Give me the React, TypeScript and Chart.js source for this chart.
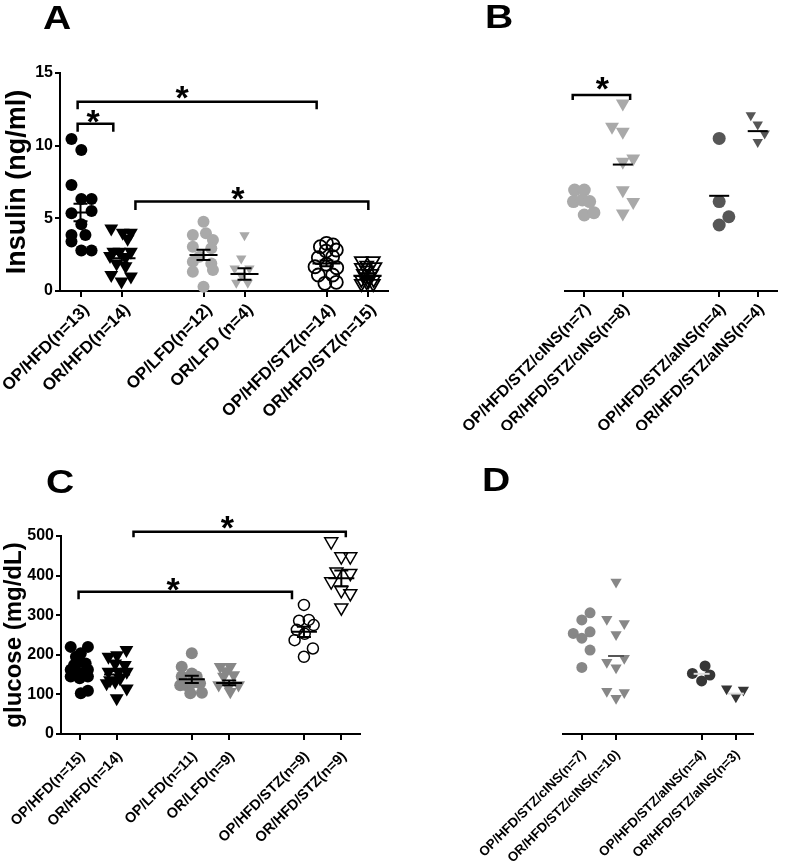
import React, { useEffect, useRef } from "react";
import { Chart, registerables } from "chart.js";
Chart.register(...registerables);

const FONT = "'Liberation Sans', Arial, Helvetica, sans-serif";

// ---------- Panel A : Insulin (ng/ml) ----------
const aLabels = ["OP/HFD(n=13)", "OR/HFD(n=14)", "OP/LFD(n=12)", "OR/LFD (n=4)", "OP/HFD/STZ(n=14)", "OR/HFD/STZ(n=15)"];
const aPos = [1, 2, 4, 5, 7, 8];
const aOpHfd = [10.46, 9.7, 7.3, 6.33, 6.33, 5.35, 5.5, 4.59, 3.85, 3.85, 3.4, 2.78, 2.78];
const aOpHfdJit = [-0.22, 0.02, -0.22, 0.02, 0.27, -0.22, 0.27, 0.02, -0.22, 0.12, -0.22, 0.02, 0.27];
const aOrHfd = [4.3, 4.0, 4.0, 3.6, 2.7, 2.7, 2.7, 2.4, 2.3, 1.9, 1.7, 1.1, 1.0, 0.65];
const aOrHfdJit = [-0.25, 0.03, 0.23, 0.15, -0.2, -0.05, 0.23, -0.28, 0.1, -0.12, 0.1, -0.25, 0.23, 0];
const aOpLfd = [4.77, 3.85, 3.97, 3.51, 3.05, 2.94, 2.36, 2.02, 1.9, 1.33, 1.44, 0.3];
const aOpLfdJit = [0, -0.26, 0.06, 0.23, -0.26, 0.19, -0.1, -0.26, 0.19, -0.26, 0.23, 0];
const aOrLfd = [3.84, 2.23, 1.54, 1.54, 1.08, 0.56, 0.56];
const aOrLfdJit = [0, -0.08, -0.24, 0.12, -0.08, -0.2, 0.08];
const aOpStz = [3.28, 3.17, 3.05, 2.75, 2.82, 2.29, 2.36, 1.84, 1.67, 1.6, 1.1, 1.1, 0.53, 0.6];
const aOpStzJit = [0, 0.16, -0.15, -0.01, 0.24, -0.2, 0.15, 0, -0.28, 0.25, -0.2, 0.15, -0.04, 0.24];
const aOrStz = [2.07, 2.07, 1.77, 1.61, 1.66, 1.43, 1.2, 1.2, 0.97, 0.79, 0.79, 0.63, 0.51, 0.51, 0.7];
const aOrStzJit = [-0.15, 0.14, -0.02, -0.15, 0.18, -0.02, -0.1, 0.1, 0.02, -0.15, 0.15, -0.02, -0.15, 0.14, 0.02];
const aMeans = [5.4, 2.25, 2.48, 1.17, 1.9, 1.03];
const aSems = [0.6, 0.3, 0.35, 0.4, 0.2, 0.15];
const aYTicks = [0, 5, 10, 15];
const aBrackets = [[0.93, 1.8, 11.5, 10.95], [0.93, 6.76, 13.03, 12.5], [2.34, 8.02, 6.15, 5.57]];
const aStars = [[1.32, 11.98], [3.49, 13.63], [4.85, 6.68]];

// ---------- Panel B : Insulin, insulin-treated ----------
const bLabels = ["OP/HFD/STZ/cINS(n=7)", "OR/HFD/STZ/cINS(n=8)", "OP/HFD/STZ/aINS(n=4)", "OR/HFD/STZ/aINS(n=4)"];
const bPos = [1, 2, 4.5, 5.5];
const bOpC = [6.95, 6.95, 6.15, 6.26, 6.15, 5.23, 5.39];
const bOpCJit = [-0.25, 0, -0.28, -0.05, 0.14, 0, 0.25];
const bOrC = [12.9, 11.3, 10.95, 9.12, 8.89, 6.93, 6.13, 5.33];
const bOrCJit = [0, -0.28, 0, 0.27, 0, 0, 0.27, 0];
const bOpA = [10.5, 6.15, 5.11, 4.54];
const bOpAJit = [0, 0, 0.25, 0];
const bOrA = [12.1, 11.46, 10.84, 10.26];
const bOrAJit = [-0.18, 0, 0.18, 0];
const bMeans = [6.2, 8.7, 6.55, 11.0];
const bBrackets = [[0.7, 2.19, 13.49, 13.15]];
const bStars = [[1.48, 14.25]];

// ---------- Panel C : glucose (mg/dL) ----------
const cLabels = ["OP/HFD(n=15)", "OR/HFD(n=14)", "OP/LFD(n=11)", "OR/LFD(n=9)", "OP/HFD/STZ(n=9)", "OR/HFD/STZ(n=9)"];
const cPos = [1, 2, 4, 5, 7, 8];
const cOpHfd = [220, 220, 195, 204, 183, 174, 178, 162, 162, 153, 145, 145, 141, 103, 109];
const cOpHfdJit = [-0.24, 0.22, -0.1, 0.03, 0, -0.15, 0.16, -0.24, 0.22, -0.02, -0.24, 0.22, 0, 0.03, 0.22];
const cOrHfd = [212, 199, 195, 178, 174, 157, 157, 157, 136, 140, 128, 115, 132, 90];
const cOrHfdJit = [0.25, 0, -0.23, -0.05, 0.21, -0.23, 0.04, 0.26, -0.19, 0.08, -0.28, 0.26, -0.05, -0.01];
const cOpLfd = [204, 170, 153, 145, 145, 124, 128, 128, 103, 104, 123];
const cOpLfdJit = [0, -0.27, 0, -0.27, 0.13, -0.18, 0, 0.22, -0.04, 0.27, -0.31];
const cOrLfd = [170, 170, 159, 149, 145, 124, 119, 124, 107];
const cOrLfdJit = [-0.24, 0.03, -0.1, 0.12, -0.15, -0.28, -0.02, 0.25, 0.03];
const cOpStz = [326, 286, 288, 275, 263, 253, 237, 216, 195];
const cOpStzJit = [0, -0.13, 0.13, 0.26, -0.19, 0.02, -0.25, 0.24, 0];
const cOrStz = [486, 448, 448, 410, 406, 385, 363, 355, 319];
const cOrStzJit = [-0.27, 0, 0.24, -0.13, 0.24, -0.27, 0, 0.24, 0];
const cMeans = [166, 150, 138, 129, 258, 393];
const cSems = [10, 9, 9, 6, 13, 20];
const cYTicks = [0, 100, 200, 300, 400, 500];
const cBrackets = [[0.97, 6.68, 359, 340], [2.44, 8.12, 511, 497]];
const cStars = [[3.51, 377], [4.96, 534]];

// ---------- Panel D : glucose, insulin-treated ----------
const dLabels = ["OP/HFD/STZ/cINS(n=7)", "OR/HFD/STZ/cINS(n=10)", "OP/HFD/STZ/aINS(n=4)", "OR/HFD/STZ/aINS(n=3)"];
const dPos = [1, 2, 4.5, 5.5];
const dOpC = [306, 288, 254, 242, 258, 212, 168];
const dOpCJit = [0.24, 0, -0.25, 0, 0.24, 0.24, 0];
const dOrC = [384, 290, 279, 251, 191, 181, 167, 108, 105, 90];
const dOrCJit = [0, -0.27, 0.24, 0, 0.24, -0.27, 0, -0.27, 0.24, 0];
const dOpA = [153, 172, 149, 134];
const dOpAJit = [-0.27, 0.1, 0.24, 0];
const dOrA = [114, 111, 94];
const dOrAJit = [-0.27, 0.22, 0];
const dMeans = [247, 197, 152, 102];

type Grp = { vals: number[]; jit: number[]; shape: string; fill: string; stroke: string; r: number; bw: number };
type Cfg = {
  letter: string; letterX: number; letterY: number;
  labels: string[]; pos: number[]; groups: Grp[];
  xMin: number; xMax: number; yMax: number; yTicks: number[]; showY: boolean;
  yTitle: string; yTitleSize: number; yTitlePad: number;
  padL: number; padR: number; padT: number; yW: number; xH: number;
  labelSize: number; tickPad: number; labelOffset: number;
  means: number[]; sems: number[]; meanColors: string[]; meanW: number; capW: number;
  brackets: number[][]; stars: number[][];
};

const circ = (vals: number[], jit: number[], fill: string, r = 6, stroke?: string, bw = 0): Grp =>
  ({ vals, jit, shape: "circle", fill, stroke: stroke || fill, r, bw });
const tri = (vals: number[], jit: number[], fill: string, r = 8, stroke?: string, bw = 0): Grp =>
  ({ vals, jit, shape: "triangle", fill, stroke: stroke || fill, r, bw });

const NONE = "rgba(0,0,0,0)";
const LG = "#a9a9a9";
const MG = "#878787";
const DG = "#565656";
const VDG = "#363636";

const cfgA: Cfg = {
  letter: "A", letterX: 43, letterY: 29,
  labels: aLabels, pos: aPos,
  groups: [
    circ(aOpHfd, aOpHfdJit, "#000", 6),
    tri(aOrHfd, aOrHfdJit, "#000", 8),
    circ(aOpLfd, aOpLfdJit, LG, 6),
    tri(aOrLfd, aOrLfdJit, LG, 6),
    circ(aOpStz, aOpStzJit, NONE, 6.5, "#000", 1.8),
    tri(aOrStz, aOrStzJit, NONE, 7.5, "#000", 1.8),
  ],
  xMin: 0.5, xMax: 8.5, yMax: 15, yTicks: aYTicks, showY: true,
  yTitle: "Insulin (ng/ml)", yTitleSize: 27, yTitlePad: 1,
  padL: 0, padR: 92, padT: 73, yW: 60, xH: 139, labelSize: 17, tickPad: 3, labelOffset: 6,
  means: aMeans, sems: aSems, meanColors: ["#000", "#000", "#000", "#000", "#000", "#000"], meanW: 14, capW: 7,
  brackets: aBrackets, stars: aStars,
};

const cfgB: Cfg = {
  letter: "B", letterX: 85, letterY: 28,
  labels: bLabels, pos: bPos,
  groups: [
    circ(bOpC, bOpCJit, LG, 6.5),
    tri(bOrC, bOrCJit, LG, 8),
    circ(bOpA, bOpAJit, DG, 6.5),
    tri(bOrA, bOrAJit, DG, 6),
  ],
  xMin: 0.5, xMax: 6.0, yMax: 15, yTicks: aYTicks, showY: false,
  yTitle: "", yTitleSize: 26, yTitlePad: 0,
  padL: 165, padR: 2, padT: 73, yW: 0, xH: 139, labelSize: 16, tickPad: 3, labelOffset: 4,
  means: bMeans, sems: [0, 0, 0, 0], meanColors: [LG, "#000", "#000", "#000"], meanW: 10, capW: 0,
  brackets: bBrackets, stars: bStars,
};

const cfgC: Cfg = {
  letter: "C", letterX: 46, letterY: 63,
  labels: cLabels, pos: cPos,
  groups: [
    circ(cOpHfd, cOpHfdJit, "#000", 6),
    tri(cOrHfd, cOrHfdJit, "#000", 8),
    circ(cOpLfd, cOpLfdJit, MG, 6),
    tri(cOrLfd, cOrLfdJit, MG, 7.5),
    circ(cOpStz, cOpStzJit, NONE, 5.5, "#000", 1.5),
    tri(cOrStz, cOrStzJit, NONE, 7.5, "#000", 1.5),
  ],
  xMin: 0.5, xMax: 8.5, yMax: 500, yTicks: cYTicks, showY: true,
  yTitle: "glucose (mg/dL)", yTitleSize: 24, yTitlePad: 0,
  padL: 0, padR: 120, padT: 106, yW: 61, xH: 133, labelSize: 14.5, tickPad: 8, labelOffset: 3,
  means: cMeans, sems: cSems, meanColors: ["#000", "#000", "#000", "#000", "#000", "#000"], meanW: 13, capW: 7,
  brackets: cBrackets, stars: cStars,
};

const cfgD: Cfg = {
  letter: "D", letterX: 82, letterY: 61,
  labels: dLabels, pos: dPos,
  groups: [
    circ(dOpC, dOpCJit, MG, 5.5),
    tri(dOrC, dOrCJit, MG, 6.5),
    circ(dOpA, dOpAJit, VDG, 5.5),
    tri(dOrA, dOrAJit, VDG, 6.5),
  ],
  xMin: 0.45, xMax: 6.0, yMax: 500, yTicks: cYTicks, showY: false,
  yTitle: "", yTitleSize: 24, yTitlePad: 0,
  padL: 163, padR: 32, padT: 106, yW: 0, xH: 133, labelSize: 13.3, tickPad: 7, labelOffset: 2,
  means: dMeans, sems: [0, 0, 0, 0], meanColors: [MG, DG, "#ddd", "#ddd"], meanW: 8, capW: 0,
  brackets: [], stars: [],
};

function decor(cfg: Cfg) {
  return {
    id: "decor",
    afterDatasetsDraw(chart: any) {
      const { ctx } = chart;
      const xs = chart.scales.x, ys = chart.scales.y;
      cfg.means.forEach((m, i) => {
        const cx = xs.getPixelForValue(cfg.pos[i]);
        const my = ys.getPixelForValue(m);
        ctx.save();
        ctx.strokeStyle = cfg.meanColors[i];
        ctx.lineWidth = 2;
        ctx.beginPath();
        ctx.moveTo(cx - cfg.meanW, my);
        ctx.lineTo(cx + cfg.meanW, my);
        const s = cfg.sems[i];
        if (s > 0) {
          const t = ys.getPixelForValue(m + s), b = ys.getPixelForValue(m - s);
          ctx.moveTo(cx, t); ctx.lineTo(cx, b);
          ctx.moveTo(cx - cfg.capW, t); ctx.lineTo(cx + cfg.capW, t);
          ctx.moveTo(cx - cfg.capW, b); ctx.lineTo(cx + cfg.capW, b);
        }
        ctx.stroke();
        ctx.restore();
      });
    },
    afterDraw(chart: any) {
      const { ctx } = chart;
      const xs = chart.scales.x, ys = chart.scales.y;
      ctx.save();
      ctx.fillStyle = "#000";
      ctx.textBaseline = "alphabetic";
      ctx.textAlign = "left";
      ctx.font = `bold 34px ${FONT}`;
      ctx.save();
      ctx.translate(cfg.letterX, cfg.letterY);
      ctx.scale(1.15, 1);
      ctx.fillText(cfg.letter, 0, 0);
      ctx.restore();
      ctx.strokeStyle = "#000";
      ctx.lineWidth = 2.5;
      cfg.brackets.forEach(([x1, x2, yl, yb]) => {
        const px1 = xs.getPixelForValue(x1), px2 = xs.getPixelForValue(x2);
        const pyl = ys.getPixelForValue(yl), pyb = ys.getPixelForValue(yb);
        ctx.beginPath();
        ctx.moveTo(px1, pyb); ctx.lineTo(px1, pyl); ctx.lineTo(px2, pyl); ctx.lineTo(px2, pyb);
        ctx.stroke();
      });
      ctx.font = `bold 34px ${FONT}`;
      cfg.stars.forEach(([sx, sy]) => {
        const cx = xs.getPixelForValue(sx), cy = ys.getPixelForValue(sy);
        const m = ctx.measureText("*");
        const bx = cx - (m.actualBoundingBoxRight - m.actualBoundingBoxLeft) / 2;
        const by = cy - (m.actualBoundingBoxDescent - m.actualBoundingBoxAscent) / 2;
        ctx.fillText("*", bx, by);
      });
      ctx.restore();
    },
  };
}

function build(canvas: HTMLCanvasElement, cfg: Cfg) {
  const datasets = cfg.groups.map((g, i) => ({
    label: cfg.labels[i],
    data: g.vals.map((v, j) => ({ x: cfg.pos[i] + g.jit[j], y: v })),
    pointStyle: g.shape,
    pointRotation: g.shape === "triangle" ? 180 : 0,
    pointRadius: g.r,
    pointBackgroundColor: g.fill,
    pointBorderColor: g.stroke,
    pointBorderWidth: g.bw,
    showLine: false,
    clip: false as any,
  }));
  const axisCommon = {
    grid: { drawOnChartArea: false, drawTicks: true, color: "#000", lineWidth: 2 },
    border: { display: true, color: "#000", width: 2 },
  };
  return new Chart(canvas, {
    type: "scatter",
    data: { datasets },
    plugins: [decor(cfg)],
    options: {
      animation: false,
      responsive: false,
      events: [],
      layout: { padding: { left: cfg.padL, right: cfg.padR, top: cfg.padT, bottom: 0 } },
      plugins: { legend: { display: false }, tooltip: { enabled: false } },
      scales: {
        x: {
          type: "linear",
          min: cfg.xMin,
          max: cfg.xMax,
          afterBuildTicks: (s: any) => { s.ticks = cfg.pos.map((v) => ({ value: v })); },
          afterFit: (s: any) => { s.height = cfg.xH; s.paddingLeft = 0; s.paddingRight = 0; },
          ticks: {
            autoSkip: false,
            minRotation: 45,
            maxRotation: 45,
            padding: cfg.tickPad,
            labelOffset: cfg.labelOffset,
            color: "#000",
            font: { family: FONT, size: cfg.labelSize, weight: "bold" },
            callback: (v: any) => { const k = cfg.pos.indexOf(Number(v)); return k >= 0 ? cfg.labels[k] : ""; },
          },
          grid: { ...axisCommon.grid, tickLength: 6 },
          border: axisCommon.border,
        },
        y: {
          display: cfg.showY,
          min: 0,
          max: cfg.yMax,
          afterBuildTicks: (s: any) => { s.ticks = cfg.yTicks.map((v) => ({ value: v })); },
          afterFit: (s: any) => { s.width = cfg.yW; s.paddingTop = 0; s.paddingBottom = 0; },
          ticks: {
            padding: 2,
            color: "#000",
            font: { family: FONT, size: 16, weight: "bold" },
          },
          grid: { ...axisCommon.grid, tickLength: 5 },
          border: axisCommon.border,
          title: {
            display: cfg.showY,
            text: cfg.yTitle,
            color: "#000",
            font: { family: FONT, size: cfg.yTitleSize, weight: "bold" },
            padding: { top: cfg.yTitlePad, bottom: 0 },
          },
        },
      },
    } as any,
  });
}

function Panel({ cfg, left, top, width, height }: { cfg: Cfg; left: number; top: number; width: number; height: number }) {
  const ref = useRef<HTMLCanvasElement>(null);
  useEffect(() => {
    const ch = build(ref.current as HTMLCanvasElement, cfg);
    return () => ch.destroy();
  }, []);
  return (
    <canvas
      ref={ref}
      width={width}
      height={height}
      style={{ position: "absolute", left, top, width, height }}
    />
  );
}

export default function App() {
  return (
    <div style={{ position: "absolute", left: 0, top: 0, width: 785, height: 867, background: "#fff", overflow: "hidden" }}>
      <Panel cfg={cfgA} left={0} top={0} width={480} height={430} />
      <Panel cfg={cfgC} left={0} top={430} width={480} height={437} />
      <Panel cfg={cfgB} left={400} top={0} width={385} height={430} />
      <Panel cfg={cfgD} left={400} top={430} width={385} height={437} />
    </div>
  );
}
